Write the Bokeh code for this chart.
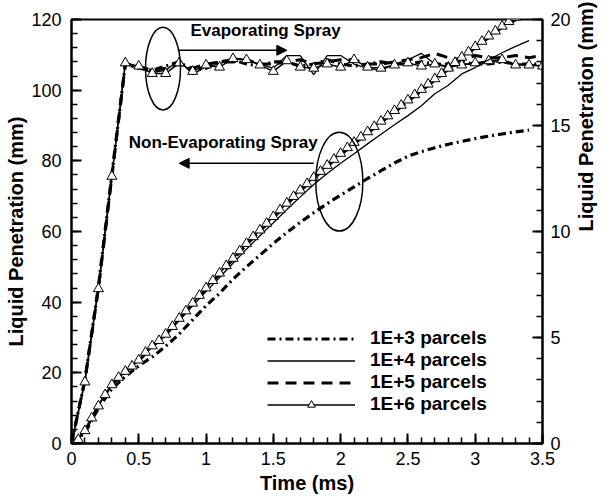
import math
from bokeh.plotting import figure
from bokeh.models import (Range1d, LinearAxis, SingleIntervalTicker, Legend, LegendItem,
                          Arrow, NormalHead, Label)
from bokeh.embed import file_html
from bokeh.resources import INLINE

# ---------------- data ----------------
# Non-evaporating spray (left axis, mm)
t_ne6 = [0.00, 0.05, 0.10, 0.15, 0.20, 0.25, 0.30, 0.35, 0.40, 0.45, 0.50, 0.55, 0.60, 0.65,
         0.70, 0.75, 0.80, 0.85, 0.90, 0.95, 1.00, 1.05, 1.10, 1.15, 1.20, 1.25, 1.30, 1.35,
         1.40, 1.45, 1.50, 1.55, 1.60, 1.65, 1.70, 1.75, 1.80, 1.85, 1.90, 1.95, 2.00, 2.05,
         2.10, 2.15, 2.20, 2.25, 2.30, 2.35, 2.40, 2.45, 2.50, 2.55, 2.60, 2.65, 2.70, 2.75,
         2.80, 2.85, 2.90, 2.95, 3.00, 3.05, 3.10, 3.15, 3.20, 3.25, 3.30]
ne_1e6 = [0.0, 1.1, 3.6, 7.2, 10.6, 13.8, 16.6, 18.7, 20.4, 21.9, 23.6, 25.8, 27.6, 29.1,
          30.9, 33.1, 35.4, 37.5, 39.7, 41.9, 44.0, 46.1, 48.2, 50.3, 52.4, 54.5, 56.6, 58.5,
          60.4, 62.3, 64.2, 66.1, 68.0, 69.9, 71.7, 73.5, 75.3, 77.0, 78.7, 80.4, 82.1, 83.7,
          85.2, 86.7, 88.2, 89.7, 91.2, 92.7, 94.2, 95.7, 97.2, 98.7, 100.2, 101.7, 103.2, 104.7,
          106.2, 107.8, 109.3, 110.8, 112.3, 113.8, 115.3, 116.7, 118.1, 119.4, 120.6]

t_ne = [0.0, 0.1, 0.2, 0.3, 0.4, 0.5, 0.6, 0.7, 0.8, 0.9, 1.0, 1.1, 1.2, 1.3, 1.4, 1.5, 1.6,
        1.7, 1.8, 1.9, 2.0, 2.1, 2.2, 2.3, 2.4, 2.5, 2.6, 2.7, 2.8, 2.9, 3.0, 3.1, 3.2, 3.3, 3.4]
ne_1e3 = [0.0, 3.0, 10.0, 15.5, 19.0, 22.0, 24.5, 27.5, 31.0, 35.0, 39.0, 42.5, 46.5, 50.0,
          53.3, 56.6, 59.7, 62.6, 65.3, 67.9, 70.3, 72.6, 75.0, 77.2, 79.4, 81.3, 82.6, 83.7,
          84.7, 85.5, 86.3, 87.0, 87.6, 88.2, 88.7]
ne_1e4 = [0.0, 3.5, 11.0, 16.8, 20.3, 23.5, 27.3, 30.5, 34.8, 39.0, 43.0, 47.0, 51.0, 55.0,
          58.8, 62.5, 66.2, 69.8, 73.3, 76.4, 79.3, 82.0, 84.8, 87.5, 90.2, 92.8, 95.6, 99.0,
          101.4, 104.6, 106.4, 108.6, 110.6, 112.4, 114.0]
t_ne5 = [0.0, 0.1, 0.2, 0.3, 0.4, 0.5, 0.6, 0.7, 0.8, 0.9, 1.0, 1.1, 1.2, 1.3, 1.4, 1.5, 1.6,
         1.7, 1.8, 1.9, 2.0, 2.1, 2.2, 2.3, 2.4, 2.5, 2.6, 2.7, 2.8, 2.9, 3.0, 3.1, 3.2, 3.3]
ne_1e5 = [0.0, 3.5, 10.8, 16.7, 20.3, 23.4, 27.4, 30.8, 35.2, 39.5, 43.7, 47.9, 52.1, 56.3,
          60.1, 63.9, 67.7, 71.4, 75.0, 78.4, 81.7, 84.8, 87.8, 90.8, 93.8, 96.8, 99.8, 102.8,
          105.9, 109.0, 112.0, 114.9, 117.8, 119.9]

# Evaporating spray (right axis, mm)
t_ev = [0.0, 0.1, 0.2, 0.3, 0.4, 0.5, 0.6, 0.7, 0.8, 0.9, 1.0, 1.1, 1.2, 1.3, 1.4, 1.5, 1.6,
        1.7, 1.8, 1.9, 2.0, 2.1, 2.2, 2.3, 2.4, 2.5, 2.6, 2.7, 2.8, 2.9, 3.0, 3.1, 3.2, 3.3,
        3.4, 3.5]
ev_1e3 = [0.0, 3.0, 7.4, 12.7, 17.9, 17.7, 17.6, 17.8, 18.0, 17.6, 17.7, 18.0, 18.1, 17.9,
          17.8, 18.0, 18.0, 17.8, 17.9, 18.1, 17.9, 17.8, 17.9, 18.0, 17.9, 17.9, 18.0, 17.9,
          17.9, 18.0, 17.9, 17.9, 18.0, 17.9, 17.9, 17.9]
ev_1e4 = [0.0, 3.0, 7.4, 12.7, 17.9, 17.7, 17.5, 17.6, 18.1, 17.4, 17.8, 17.9, 18.2, 18.1,
          17.9, 17.7, 18.3, 18.3, 17.4, 18.3, 18.3, 17.9, 17.7, 17.6, 17.9, 18.1, 18.4, 17.9,
          17.8, 17.9, 17.9, 18.0, 18.0, 17.9, 17.9, 17.8]
ev_1e5 = [0.0, 3.0, 7.3, 12.6, 17.9, 17.8, 17.6, 17.7, 17.9, 17.7, 17.9, 18.0, 18.0, 18.1,
          17.9, 17.9, 18.0, 18.1, 17.9, 18.0, 18.1, 18.1, 17.9, 17.9, 18.0, 18.1, 18.2, 18.4,
          18.2, 18.1, 18.3, 18.2, 18.2, 18.3, 18.2, 18.3]
ev_1e6 = [0.0, 2.9, 7.3, 12.6, 17.95, 17.8, 17.45, 17.45, 17.95, 17.55, 17.85, 17.75, 18.15,
          18.1, 17.85, 17.55, 18.05, 17.75, 17.7, 17.9, 17.75, 18.1, 17.75, 17.7, 17.85, 17.95,
          17.8, 17.9, 17.75, 17.85, 17.95, 18.05, 18.1, 17.85, 17.85, 17.8]

labels = ["1E+3 parcels", "1E+4 parcels", "1E+5 parcels", "1E+6 parcels"]
x_label = "Time (ms)"
y_label = "Liquid Penetration (mm)"

FONT = "Liberation Sans"

# ---------------- figure ----------------
p = figure(width=614, height=496, x_range=Range1d(0, 3.5), y_range=Range1d(0, 120),
           output_backend="svg", toolbar_location=None,
           min_border_left=71, min_border_right=72, min_border_top=19, min_border_bottom=52,
           x_axis_label=x_label, y_axis_label=y_label)
p.extra_y_ranges = {"right": Range1d(0, 20)}
p.grid.visible = False
p.outline_line_color = "black"
p.outline_line_width = 2
p.background_fill_color = "white"
p.border_fill_color = "white"

p.xaxis.ticker = SingleIntervalTicker(interval=0.5, num_minor_ticks=5)
p.yaxis.ticker = SingleIntervalTicker(interval=20, num_minor_ticks=5)
raxis = LinearAxis(y_range_name="right", ticker=SingleIntervalTicker(interval=5, num_minor_ticks=5),
                   axis_label=y_label)
p.add_layout(raxis, "right")


def style_axis(ax):
    ax.axis_line_width = 2
    ax.axis_line_color = "black"
    ax.major_tick_in = 10
    ax.major_tick_out = 0
    ax.minor_tick_in = 6
    ax.minor_tick_out = 0
    ax.major_tick_line_width = 2
    ax.minor_tick_line_width = 1.5
    ax.major_tick_line_color = "black"
    ax.minor_tick_line_color = "black"
    ax.major_label_text_font = FONT
    ax.major_label_text_font_size = "18px"
    ax.major_label_text_color = "black"
    ax.axis_label_text_font = FONT
    ax.axis_label_text_font_size = "20px"
    ax.axis_label_text_font_style = "bold"
    ax.axis_label_text_color = "black"
    ax.major_label_standoff = 8


style_axis(p.xaxis[0])
style_axis(p.yaxis[0])
style_axis(raxis)
p.yaxis[0].major_label_standoff = 10
p.xaxis.axis_label_standoff = 4
p.yaxis[0].axis_label_standoff = 1
raxis.axis_label_standoff = 12
# right axis title should read bottom-to-top like the left one
if "axis_label_orientation" in raxis.properties():
    raxis.axis_label_orientation = math.pi / 2

# ---------------- curves ----------------
# evaporating (right axis)
p.line(t_ev, ev_1e3, y_range_name="right", line_color="black", line_width=3.2, line_dash="8 4 2 4")
p.line(t_ev, ev_1e4, y_range_name="right", line_color="black", line_width=1.3)
p.line(t_ev, ev_1e5, y_range_name="right", line_color="black", line_width=3, line_dash="11 7")
p.line(t_ev, ev_1e6, y_range_name="right", line_color="black", line_width=1.5)
p.scatter(t_ev, ev_1e6, y_range_name="right", marker="triangle", size=10,
          fill_color="white", line_color="black", line_width=1)

# non-evaporating (left axis)
r3 = p.line(t_ne, ne_1e3, line_color="black", line_width=3.2, line_dash="8 4 2 4")
r4 = p.line(t_ne, ne_1e4, line_color="black", line_width=1.3)
r5 = p.line(t_ne5, ne_1e5, line_color="black", line_width=3, line_dash="11 7")
r6 = p.line(t_ne6, ne_1e6, line_color="black", line_width=1.5)
r6s = p.scatter(t_ne6, ne_1e6, marker="triangle", size=10,
                fill_color="white", line_color="black", line_width=1)

# ---------------- annotations ----------------
p.ellipse(x=[0.68], y=[106.1], width=0.26, height=23.4, fill_color=None,
          line_color="black", line_width=1.5)
p.ellipse(x=[1.99], y=[74.1], width=0.35, height=28.0, fill_color=None,
          line_color="black", line_width=1.5)

p.add_layout(Arrow(end=NormalHead(size=10, fill_color="black", line_color="black"),
                   x_start=0.79, y_start=111.3, x_end=1.60, y_end=111.3,
                   line_color="black", line_width=1.5))
p.add_layout(Arrow(end=NormalHead(size=10, fill_color="black", line_color="black"),
                   x_start=1.80, y_start=79.3, x_end=0.80, y_end=79.3,
                   line_color="black", line_width=1.5))

p.add_layout(Label(x=0.884, y=116.8, text="Evaporating Spray", text_font=FONT,
                   text_font_size="17px", text_font_style="bold", text_color="black",
                   text_baseline="alphabetic"))
p.add_layout(Label(x=0.426, y=85.3, text="Non-Evaporating Spray", text_font=FONT,
                   text_font_size="17px", text_font_style="bold", text_color="black",
                   text_baseline="alphabetic"))

# ---------------- legend ----------------
legend = Legend(items=[LegendItem(label=labels[0], renderers=[r3]),
                       LegendItem(label=labels[1], renderers=[r4]),
                       LegendItem(label=labels[2], renderers=[r5]),
                       LegendItem(label=labels[3], renderers=[r6, r6s])],
                location=(196, 28), padding=0, margin=0, spacing=0,
                glyph_width=88, glyph_height=19, label_height=19, label_standoff=15,
                label_text_font=FONT, label_text_font_size="19px",
                label_text_font_style="bold", label_text_color="black",
                border_line_color=None, background_fill_alpha=0)
p.add_layout(legend)

open("out.html", "w").write(file_html(p, INLINE))
